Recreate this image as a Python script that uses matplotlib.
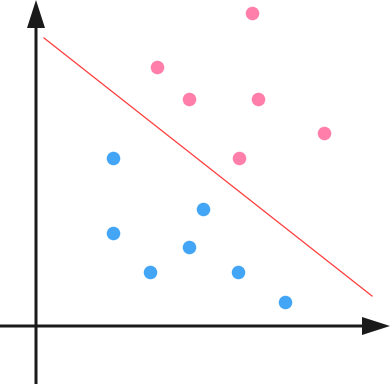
import matplotlib
matplotlib.use('Agg')
import matplotlib.pyplot as plt

# two classes of points and a separating line
pink_x = [21.6, 12.1, 15.3, 22.2, 28.8, 20.3]
pink_y = [31.3, 25.9, 22.7, 22.7, 19.3, 16.8]
blue_x = [7.7, 16.7, 7.7, 15.3, 11.4, 20.2, 24.9]
blue_y = [16.8, 11.7, 9.3, 7.9, 5.4, 5.4, 2.4]
line_x = [0.8, 33.6]
line_y = [28.8, 3.0]

fig = plt.figure(figsize=(3.91, 3.84), dpi=100)
ax = fig.add_axes([0, 0, 1, 1])
ax.set_xlim(-3.6, 35.5)
ax.set_ylim(-5.8, 32.6)
ax.axis('off')

# axes with arrow heads
ax.arrow(-3.6, 0, 39.0, 0, width=0.3, head_width=1.8, head_length=2.8,
         length_includes_head=True, color='#1a1a1a', lw=0)
ax.arrow(0, -5.8, 0, 38.4, width=0.3, head_width=1.8, head_length=2.8,
         length_includes_head=True, color='#1a1a1a', lw=0)

ax.plot(line_x, line_y, color='#ff3b3b', lw=0.9)
ax.scatter(pink_x, pink_y, s=95, color='#ff7faa', lw=0, zorder=3)
ax.scatter(blue_x, blue_y, s=95, color='#42a5f5', lw=0, zorder=3)

fig.savefig('out.png', dpi=100)
